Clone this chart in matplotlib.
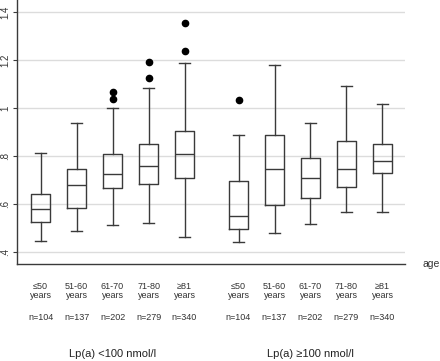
import numpy as np
import matplotlib
matplotlib.use("Agg")
import matplotlib.pyplot as plt
import matplotlib.transforms as mtransforms

plt.rcParams['font.family'] = ['Liberation Sans', 'DejaVu Sans']

# age groups, repeated for both Lp(a) strata
ages = ["\u226450\nyears", "51-60\nyears", "61-70\nyears", "71-80\nyears", "\u226581\nyears"]
counts = ["n=104", "n=137", "n=202", "n=279", "n=340"]
groups = ["Lp(a) <100 nmol/l", "Lp(a) \u2265100 nmol/l"]

# box statistics: low whisker, q1, median, q3, high whisker
whislo = [0.447, 0.490, 0.514, 0.522, 0.464, 0.444, 0.479, 0.517, 0.568, 0.568]
q1 = [0.525, 0.585, 0.668, 0.683, 0.708, 0.496, 0.597, 0.625, 0.672, 0.728]
med = [0.578, 0.679, 0.725, 0.760, 0.811, 0.551, 0.746, 0.708, 0.748, 0.778]
q3 = [0.644, 0.748, 0.808, 0.850, 0.905, 0.698, 0.886, 0.792, 0.865, 0.850]
whishi = [0.815, 0.938, 1.001, 1.082, 1.189, 0.886, 1.180, 0.938, 1.090, 1.018]
fliers = [[], [], [1.037, 1.065], [1.126, 1.193], [1.237, 1.354],
          [1.033], [], [], [], []]

positions = [1, 2, 3, 4, 5, 6.5, 7.5, 8.5, 9.5, 10.5]

stats = []
for i in range(len(med)):
    stats.append(dict(whislo=whislo[i], q1=q1[i], med=med[i], q3=q3[i],
                      whishi=whishi[i], fliers=fliers[i]))

fig = plt.figure(figsize=(4.4, 3.61), dpi=100)
ax = fig.add_axes([0.039, 0.268, 0.881, 0.732])

line_c = "#3a3a3a"
ax.bxp(stats, positions=positions, widths=0.54, capwidths=0.33,
       boxprops=dict(color=line_c, linewidth=1.0),
       medianprops=dict(color=line_c, linewidth=1.0),
       whiskerprops=dict(color=line_c, linewidth=1.0),
       capprops=dict(color=line_c, linewidth=1.0),
       flierprops=dict(marker="o", markerfacecolor="black", markeredgecolor="black",
                       markersize=4.5),
       manage_ticks=False)

ax.set_xlim(0.35, 11.12)
ax.set_ylim(0.35, 1.45)

yt = [0.4, 0.6, 0.8, 1.0, 1.2, 1.4]
ax.set_yticks(yt)
ax.set_yticklabels([".4", ".6", ".8", "1", "1.2", "1.4"], rotation=90,
                   va="center", fontsize=7, color="#333333")
ax.tick_params(axis="y", length=3, width=0.8, color=line_c, pad=2)
ax.set_xticks([])
ax.grid(axis="y", color="#dcdcdc", linewidth=1.0)
ax.set_axisbelow(True)

for s in ["top", "right"]:
    ax.spines[s].set_visible(False)
ax.spines["left"].set_color(line_c)
ax.spines["bottom"].set_color(line_c)
ax.spines["left"].set_linewidth(1.0)
ax.spines["bottom"].set_linewidth(1.0)

# labels below the axis, in data x / figure y
trans = mtransforms.blended_transform_factory(ax.transData, fig.transFigure)
for i, p in enumerate(positions):
    ax.text(p, 1 - 291 / 361, ages[i % 5], transform=trans, ha="center", va="center",
            fontsize=6.5, color="#333333", linespacing=1.1)
    ax.text(p, 1 - 318 / 361, counts[i % 5], transform=trans, ha="center", va="center",
            fontsize=6.5, color="#333333")
for g, c in zip(groups, [3, 8.5]):
    ax.text(c, 1 - 354 / 361, g, transform=trans, ha="center", va="center",
            fontsize=8, color="#222222")

fig.text(431 / 440, 1 - 264 / 361, "age", ha="center", va="center",
         fontsize=7.5, color="#333333")

fig.savefig("out.png", dpi=100)
